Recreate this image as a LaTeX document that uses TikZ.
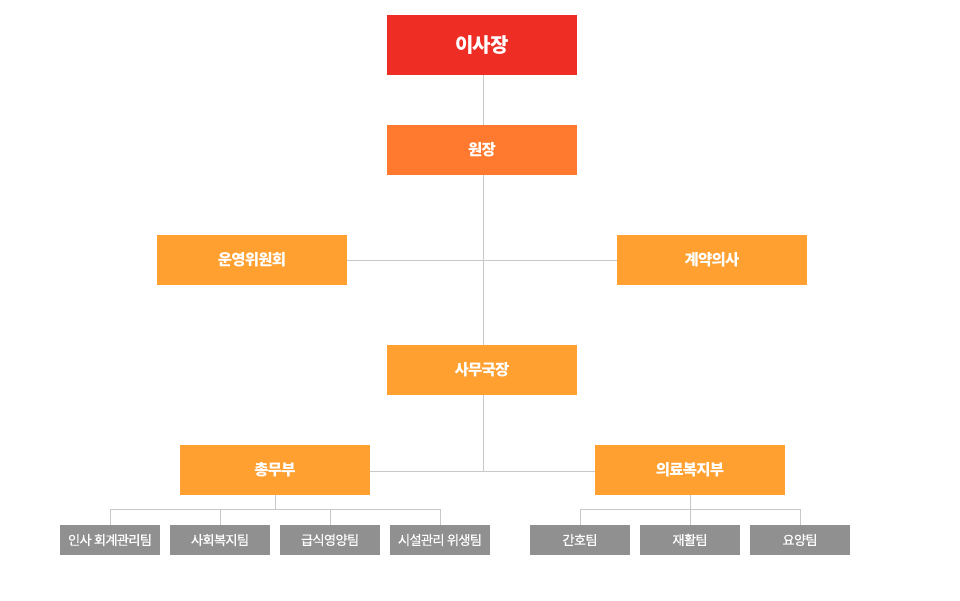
\documentclass[tikz,border=0pt]{standalone}
\usepackage{fontspec}
\newfontfamily\kr{Noto Sans CJK KR}[LetterSpace=-5]
\newfontfamily\krteam{Noto Sans CJK KR}[LetterSpace=-5,FakeBold=0.6]
\definecolor{topred}{HTML}{EE2E24}
\definecolor{deporange}{HTML}{FF7A2E}
\definecolor{boxorange}{HTML}{FFA030}
\definecolor{teamgray}{HTML}{909090}
\definecolor{linegray}{HTML}{C8C8C8}
\begin{document}
\begin{tikzpicture}[x=1pt,y=-1pt,
  box/.style={draw=none,minimum width=190pt,minimum height=50pt,inner sep=0pt,text=white,font=\kr\bfseries\fontsize{15.5}{18}\selectfont},
  topbox/.style={box,fill=topred,minimum height=60pt,font=\kr\bfseries\fontsize{20}{24}\selectfont},
  headbox/.style={box,fill=deporange},
  obox/.style={box,fill=boxorange},
  team/.style={draw=none,fill=teamgray,minimum width=100pt,minimum height=30pt,inner sep=0pt,text=white,font=\krteam\fontsize{13.2}{16}\selectfont},
  conn/.style={draw=linegray,line width=0.8pt}]
\useasboundingbox (0,0) rectangle (960,600);
\node[topbox] (chair) at (482,45) {이사장};
\node[headbox] (dir) at (482,150) {원장};
\node[obox] (comm) at (252,260) {운영위원회};
\node[obox] (doc) at (712,260) {계약의사};
\node[obox] (sec) at (482,370) {사무국장};
\node[obox] (gen) at (275,470) {총무부};
\node[obox] (med) at (690,470) {의료복지부};
\node[team] (t1) at (110,540) {인사 회계관리팀};
\node[team] (t2) at (220,540) {사회복지팀};
\node[team] (t3) at (330,540) {급식영양팀};
\node[team] (t4) at (440,540) {시설관리 위생팀};
\node[team] (t5) at (580,540) {간호팀};
\node[team] (t6) at (690,540) {재활팀};
\node[team] (t7) at (800,540) {요양팀};
\coordinate (spine) at (483,471);
\coordinate (gj) at (275,509);
\coordinate (mj) at (690,509);
\draw[conn] (chair.south -| spine) -- (dir.north -| spine);
\draw[conn] (dir.south -| spine) -- (sec.north -| spine);
\draw[conn] (sec.south -| spine) -- (spine);
\draw[conn] (comm.east) -- (doc.west);
\draw[conn] (gen.east |- spine) -- (med.west |- spine);
\draw[conn] (gen.south) -- (gj);
\draw[conn] (t1.north) |- (gj) -| (t4.north);
\draw[conn] (gj -| t2.north) -- (t2.north);
\draw[conn] (gj -| t3.north) -- (t3.north);
\draw[conn] (med.south) -- (mj);
\draw[conn] (t5.north) |- (mj) -| (t7.north);
\draw[conn] (mj) -- (t6.north);
\end{tikzpicture}
\end{document}
